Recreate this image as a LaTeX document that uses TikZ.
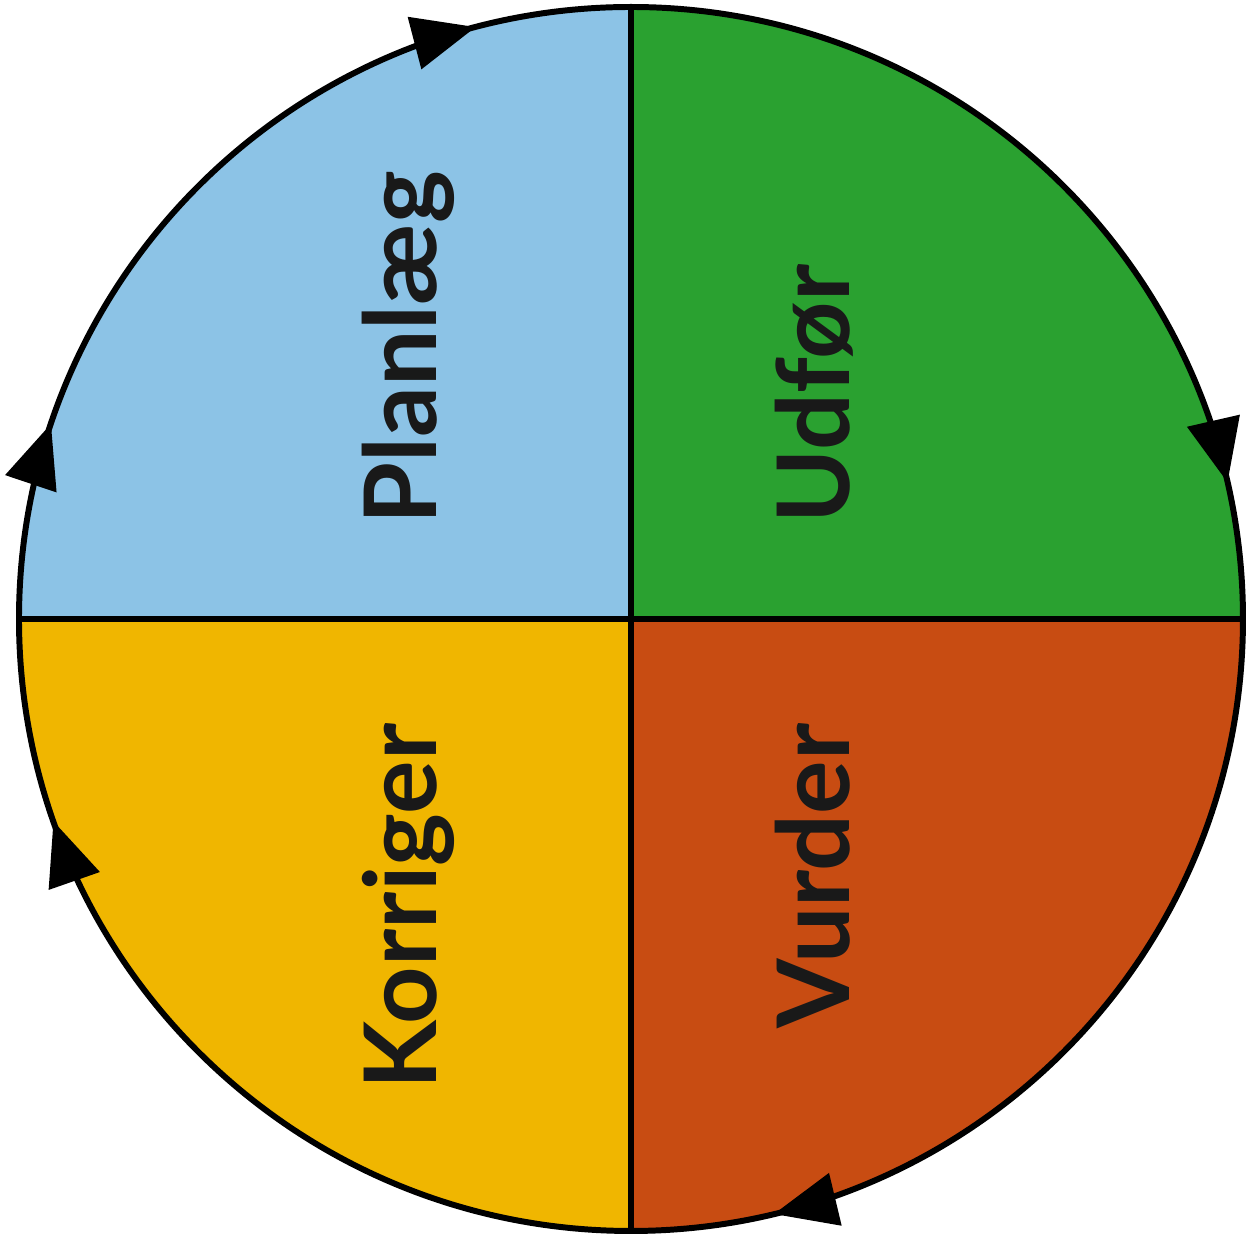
\documentclass[tikz,border=0pt]{standalone}
\usepackage{fontspec}
\setmainfont{Lato}
\usepackage{xcolor}
\usetikzlibrary{arrows.meta}

\definecolor{planblue}{RGB}{140,195,230}
\definecolor{udfgreen}{RGB}{42,161,48}
\definecolor{vurdorange}{RGB}{200,76,18}
\definecolor{korryellow}{RGB}{240,182,0}

\begin{document}
\begin{tikzpicture}[
    lbl/.style={rotate=90, inner sep=0pt, font=\fontsize{28.5}{32}\selectfont\bfseries, text=black!90},
    arr/.style={line width=1.7pt, -{Triangle[length=18pt,width=15pt]}}
  ]
    \def\R{6.12}
    \useasboundingbox (-6.31,-6.26) rectangle (6.15,6.19);
    \coordinate (c) at (0,0);

    % quadrants
    \fill[planblue] (c) -- (90:\R) arc (90:180:\R) -- cycle;
    \fill[udfgreen] (c) -- (0:\R) arc (0:90:\R) -- cycle;
    \fill[vurdorange] (c) -- (270:\R) arc (270:360:\R) -- cycle;
    \fill[korryellow] (c) -- (180:\R) arc (180:270:\R) -- cycle;

    \draw[line width=1.7pt] (c) circle (\R);
    \draw[line width=1.7pt] (90:\R) -- (270:\R);
    \draw[line width=1.7pt] (180:\R) -- (0:\R);

    % labels
    \node[lbl, anchor=base west] (plan) at (-1.94,0.94) {Planlæg};
    \node[lbl, anchor=base west] (udf) at (2.19,0.95) {Udfør};
    \node[lbl, anchor=base east] (vurd) at (2.19,-1.04) {Vurder};
    \node[lbl, anchor=base east] (korr) at (-1.94,-1.04) {Korriger};

    % arrows on the circle (clockwise)
    \foreach \a in {104.7, 12.9, -76.5, 199.3, 161.4}
        \draw[arr] (c) ++(\a+4:\R) arc (\a+4:\a:\R);
\end{tikzpicture}
\end{document}
